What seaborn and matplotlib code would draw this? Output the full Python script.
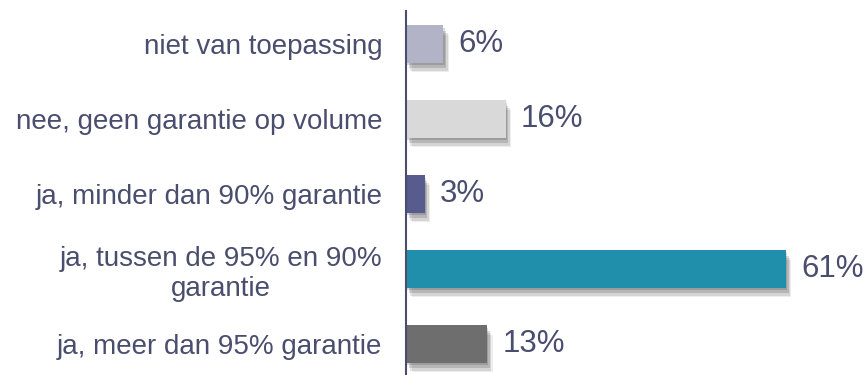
import matplotlib
matplotlib.use("Agg")
import matplotlib.pyplot as plt
import matplotlib.patheffects as pe
import pandas as pd
import seaborn as sns

# Chart data
categories = [
    "niet van toepassing",
    "nee, geen garantie op volume",
    "ja, minder dan 90% garantie",
    "ja, tussen de 95% en 90%\ngarantie",
    "ja, meer dan 95% garantie",
]
values = [6, 16, 3, 61, 13]
bar_colors = ["#B3B3C7", "#D9D9D9", "#575B8D", "#1F8FAB", "#6E6E6E"]

text_color = "#4A4E6E"

sns.set_style("white")
plt.rcParams["font.family"] = ["Liberation Sans", "DejaVu Sans"]

df = pd.DataFrame({"category": categories, "value": values})

fig = plt.figure(figsize=(8.68, 3.75), dpi=100)
ax = fig.add_axes([406 / 868, -0.017, 436 / 868, 1.0])

sns.barplot(data=df, y="category", x="value", hue="category",
            palette=bar_colors, orient="h", width=0.5, legend=False,
            saturation=1, linewidth=0, ax=ax)

# soft drop shadow under each bar
shadow = [
    pe.SimplePatchShadow(offset=(4, -7), shadow_rgbFace="#000000", alpha=0.07),
    pe.SimplePatchShadow(offset=(3, -6), shadow_rgbFace="#000000", alpha=0.10),
    pe.SimplePatchShadow(offset=(2, -4), shadow_rgbFace="#000000", alpha=0.14),
    pe.SimplePatchShadow(offset=(1, -2), shadow_rgbFace="#000000", alpha=0.14),
    pe.Normal(),
]
for patch in ax.patches:
    patch.set_edgecolor("none")
    patch.set_path_effects(shadow)

for i, v in enumerate(values):
    ax.annotate(f"{v}%", xy=(v, i), xytext=(11, 0), textcoords="offset points",
                va="center", ha="left", fontsize=22.5, color=text_color)

ax.set_xlim(0, 70)
ax.set_ylim(4.5, -0.5)
ax.set_xlabel("")
ax.set_ylabel("")
ax.set_xticks([])
ax.tick_params(axis="y", length=0, pad=17, labelsize=20, labelcolor=text_color)
for lbl in ax.get_yticklabels():
    lbl.set_multialignment("center")

for s in ["top", "right", "bottom"]:
    ax.spines[s].set_visible(False)
ax.spines["left"].set_color(text_color)
ax.spines["left"].set_linewidth(1.5)
ax.spines["left"].set_bounds(-0.44, 4.5)
ax.spines["left"].set_zorder(5)
ax.set_facecolor("none")

fig.savefig("out.png", dpi=100, facecolor="white")
